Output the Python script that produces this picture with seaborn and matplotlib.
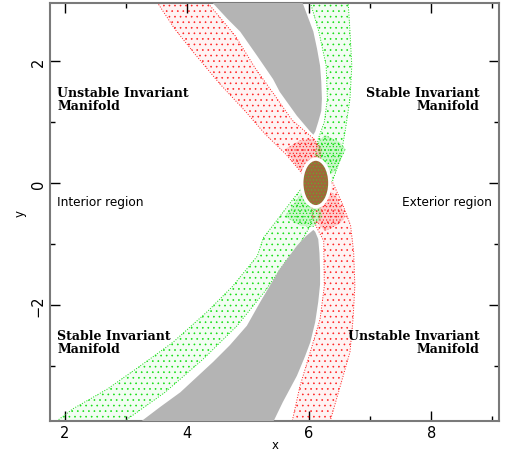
import numpy as np
import pandas as pd
import matplotlib.pyplot as plt
from matplotlib.patches import Ellipse
from matplotlib.ticker import MultipleLocator
import seaborn as sns

# zonas prohibidas (gris)
sup_gris_x = [4.41, 4.66, 4.87, 5.15, 5.41, 5.52, 5.80, 6.02, 6.07, 6.10, 6.15, 6.20, 6.21,
              6.20, 6.18, 6.13, 6.07, 5.98, 5.89]
sup_gris_y = [2.96, 2.69, 2.48, 2.08, 1.70, 1.49, 1.10, 0.84, 0.79, 0.84, 1.00, 1.18, 1.38,
              1.66, 1.92, 2.20, 2.48, 2.72, 2.96]
inf_gris_x = [6.07, 5.95, 5.80, 5.52, 5.20, 4.98, 4.70, 4.43, 3.89, 3.56, 3.23, 5.41, 5.57,
              5.80, 5.93, 6.02, 6.10, 6.15, 6.18, 6.18, 6.17, 6.15, 6.10]
inf_gris_y = [-0.77, -0.87, -1.03, -1.41, -1.95, -2.34, -2.66, -2.93, -3.43, -3.67, -3.92, -3.92, -3.59,
              -3.16, -2.85, -2.61, -2.28, -1.95, -1.66, -1.41, -1.15, -0.92, -0.80]

# variedad inestable (rojo): rama interior (arriba-izq) y exterior (abajo-der)
rojo_int_x = [3.51, 3.80, 4.13, 4.54, 4.95, 5.28, 5.61, 5.85, 5.95, 6.10, 6.20, 6.17, 6.08, 5.72, 5.44, 5.11, 4.79, 4.33]
rojo_int_y = [2.96, 2.52, 2.11, 1.62, 1.18, 0.80, 0.48, 0.20, 0.03, 0.00, 0.30, 0.60, 0.72, 1.03, 1.43, 1.89, 2.41, 2.96]
rojo_ext_x = [6.10, 6.38, 6.55, 6.68, 6.73, 6.75, 6.72, 6.67, 6.51, 6.34, 5.72, 5.85, 6.02, 6.18, 6.25, 6.24, 6.12, 6.05, 6.05]
rojo_ext_y = [0.00, 0.02, -0.35, -0.70, -1.13, -1.69, -2.23, -2.77, -3.33, -3.92, -3.92, -3.33, -2.77, -2.23, -1.69, -0.95, -0.72, -0.55, -0.30]

# variedad estable (verde): rama exterior (arriba-der) e interior (abajo-izq)
verde_ext_x = [6.10, 6.38, 6.51, 6.59, 6.67, 6.70, 6.67, 6.64, 6.02, 6.16, 6.28, 6.30, 6.25, 6.15, 6.10]
verde_ext_y = [0.00, 0.02, 0.39, 0.84, 1.38, 1.92, 2.48, 2.96, 2.96, 2.48, 1.92, 1.38, 1.00, 0.72, 0.45]
verde_int_x = [6.10, 5.93, 5.75, 5.52, 5.25, 5.15, 4.75, 4.33, 3.77, 3.23, 2.69, 2.13, 1.84, 2.95, 3.64, 4.26, 4.82, 5.28, 5.62, 5.85, 6.02, 6.08]
verde_int_y = [0.00, -0.02, -0.25, -0.55, -0.90, -1.20, -1.69, -2.11, -2.61, -3.00, -3.38, -3.70, -3.92, -3.92, -3.43, -2.89, -2.34, -1.77, -1.28, -1.00, -0.70, -0.43]

# zonas densas junto a la orbita
nucleo_rojo_int_x = [5.60, 5.85, 6.07, 6.21, 6.18, 6.02, 5.92]
nucleo_rojo_int_y = [0.55, 0.70, 0.72, 0.56, 0.31, 0.07, 0.10]
nucleo_rojo_ext_x = [6.30, 6.45, 6.60, 6.50, 6.26, 6.15, 6.15]
nucleo_rojo_ext_y = [-0.10, -0.22, -0.55, -0.67, -0.79, -0.67, -0.34]
nucleo_verde_ext_x = [6.30, 6.45, 6.60, 6.50, 6.26, 6.15, 6.15]
nucleo_verde_ext_y = [0.10, 0.22, 0.55, 0.67, 0.79, 0.67, 0.34]
nucleo_verde_int_x = [5.60, 5.85, 6.07, 6.21, 6.18, 6.02, 5.92]
nucleo_verde_int_y = [-0.55, -0.70, -0.72, -0.56, -0.31, -0.07, -0.10]

# orbita de Lyapunov
orbita_centro = (6.11, 0.0)
orbita_ancho = 0.46
orbita_alto = 0.78

ROJO = '#ff2020'
VERDE = '#10dd10'
GRIS = '#b4b4b4'

sns.set_style('ticks')
plt.rcParams['font.family'] = ['DejaVu Sans']
plt.rcParams['hatch.linewidth'] = 0.45

fig = plt.figure(figsize=(5.06, 4.52), dpi=100)
ax = fig.add_axes([0.0988, 0.0664, 0.8883, 0.9237])

def banda(xs, ys, color, hatch, alpha_cara, z):
    ax.fill(xs, ys, facecolor=color, alpha=alpha_cara, edgecolor='none', zorder=z)
    ax.fill(xs, ys, facecolor='none', edgecolor=color, hatch=hatch, linewidth=0, zorder=z)

banda(rojo_int_x, rojo_int_y, ROJO, '...', 0.05, 1)
banda(rojo_ext_x, rojo_ext_y, ROJO, '...', 0.05, 1)
banda(verde_ext_x, verde_ext_y, VERDE, '...', 0.05, 1)
banda(verde_int_x, verde_int_y, VERDE, '...', 0.05, 1)

# bordes de las bandas como trayectorias punteadas
for xs, ys, c in [(rojo_int_x, rojo_int_y, ROJO), (rojo_ext_x, rojo_ext_y, ROJO),
                  (verde_ext_x, verde_ext_y, VERDE), (verde_int_x, verde_int_y, VERDE)]:
    df = pd.DataFrame({'x': xs, 'y': ys})
    sns.lineplot(data=df, x='x', y='y', sort=False, estimator=None, ax=ax,
                 color=c, linewidth=0.7, linestyle=':', zorder=2)

banda(nucleo_rojo_int_x, nucleo_rojo_int_y, ROJO, '.....', 0.18, 3)
banda(nucleo_rojo_ext_x, nucleo_rojo_ext_y, ROJO, '.....', 0.18, 3)
banda(nucleo_verde_ext_x, nucleo_verde_ext_y, VERDE, '.....', 0.18, 3)
banda(nucleo_verde_int_x, nucleo_verde_int_y, VERDE, '.....', 0.18, 3)

ax.fill(sup_gris_x, sup_gris_y, color=GRIS, linewidth=0, zorder=4)
ax.fill(inf_gris_x, inf_gris_y, color=GRIS, linewidth=0, zorder=4)

ax.add_patch(Ellipse(orbita_centro, orbita_ancho, orbita_alto, facecolor='#a0683a',
                     edgecolor='none', zorder=5))
ax.add_patch(Ellipse(orbita_centro, orbita_ancho, orbita_alto, facecolor='none',
                     edgecolor='#5fae30', hatch='.....', linewidth=0, zorder=5))
ax.add_patch(Ellipse(orbita_centro, orbita_ancho, orbita_alto, facecolor='none',
                     edgecolor='white', linewidth=2.4, zorder=6))

# textos
serif = dict(family='DejaVu Serif', fontweight='bold', fontsize=9, va='top',
             color='black', linespacing=1.0, zorder=7)
ax.text(1.87, 1.58, 'Unstable Invariant\nManifold', ha='left', **serif)
ax.text(8.79, 1.58, 'Stable Invariant\nManifold', ha='right', multialignment='right', **serif)
ax.text(1.87, -2.40, 'Stable Invariant\nManifold', ha='left', **serif)
ax.text(8.79, -2.40, 'Unstable Invariant\nManifold', ha='right', multialignment='right', **serif)
ax.text(1.87, -0.31, 'Interior region', ha='left', va='center', fontsize=8.7, color='black')
ax.text(9.00, -0.31, 'Exterior region', ha='right', va='center', fontsize=8.7, color='black')

ax.set_xlim(1.754, 9.12)
ax.set_ylim(-3.90, 2.94)
ax.set_xlabel('x', fontsize=8.5, labelpad=-1.5, color='black')
ax.set_ylabel('y', fontsize=8.5, labelpad=3, color='black')
ax.xaxis.set_major_locator(MultipleLocator(2))
ax.xaxis.set_minor_locator(MultipleLocator(1))
ax.yaxis.set_major_locator(MultipleLocator(2))
ax.yaxis.set_minor_locator(MultipleLocator(1))
ax.tick_params(which='both', direction='in', top=True, right=True, color='black',
               labelsize=10.5, labelcolor='black', pad=3)
ax.tick_params(which='major', length=7, width=1)
ax.tick_params(which='minor', length=3.5, width=1)
for lab in ax.get_yticklabels():
    lab.set_rotation(90)
    lab.set_va('center')
for s in ax.spines.values():
    s.set_color('#7a7a7a')
    s.set_linewidth(1.5)

fig.savefig('out.png', dpi=100)
